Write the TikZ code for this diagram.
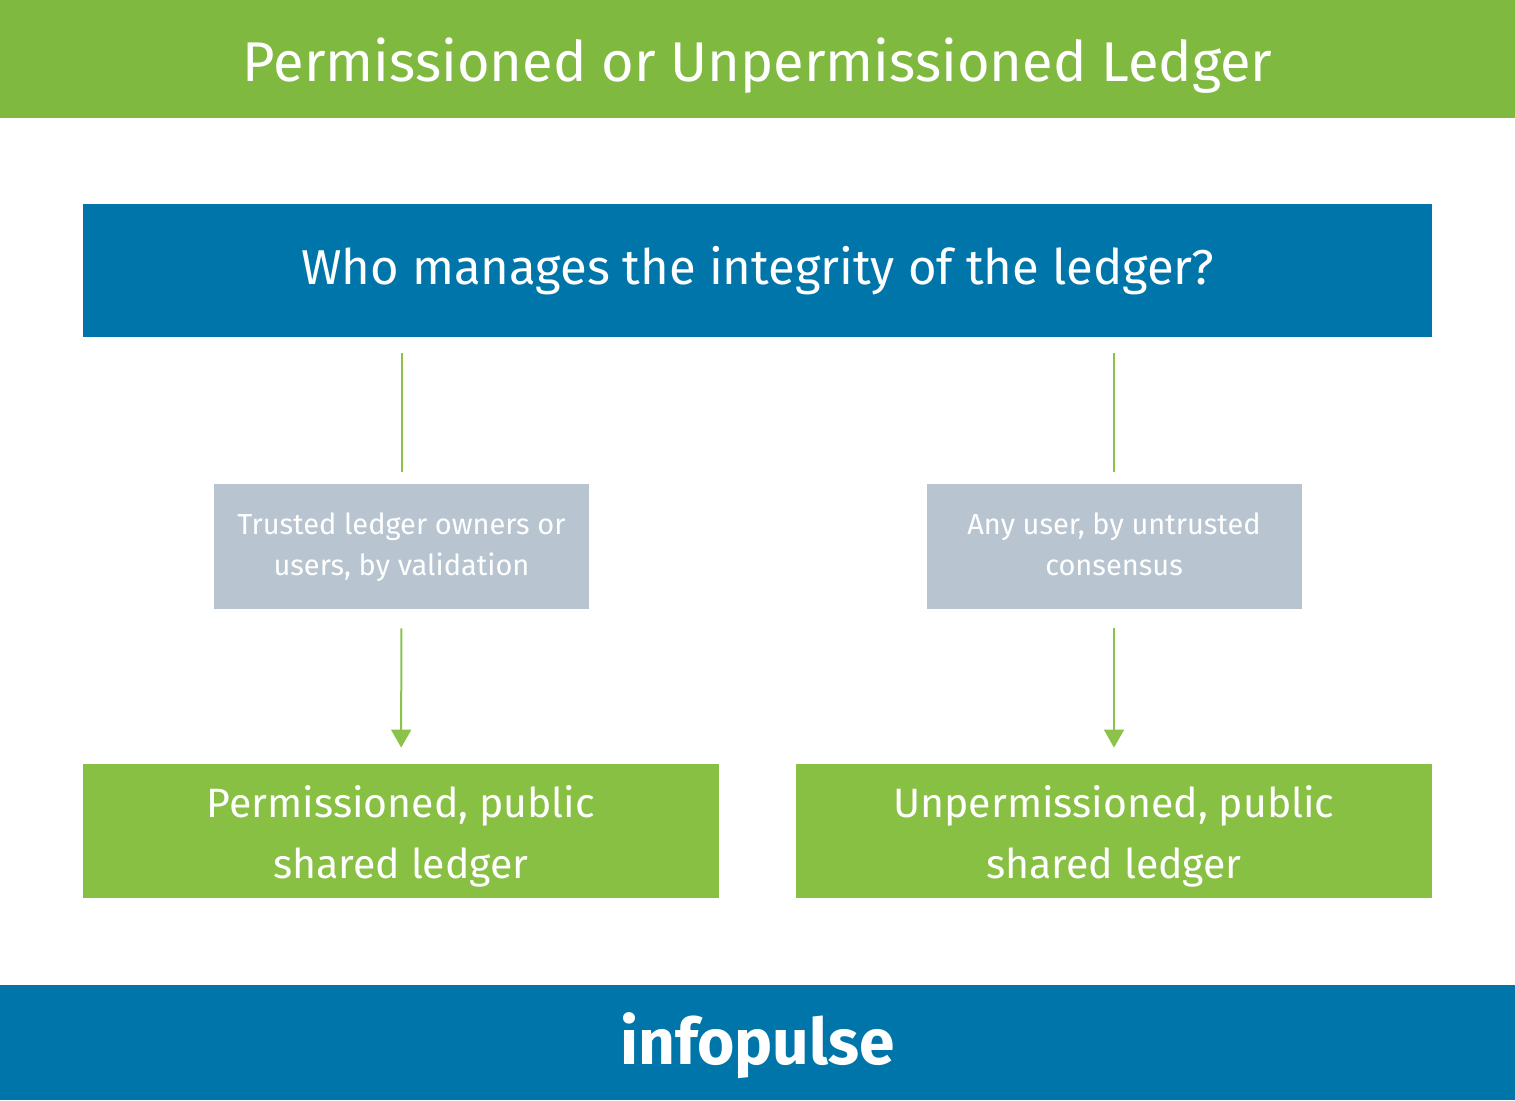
\documentclass[tikz,border=0pt]{standalone}
\usepackage{fontspec}
\setmainfont{Fira Sans}
\usetikzlibrary{arrows.meta,positioning}
\definecolor{ipGreen}{RGB}{128,185,64}
\definecolor{ipLeaf}{RGB}{136,192,67}
\definecolor{ipLine}{RGB}{139,195,74}
\definecolor{ipBlue}{RGB}{0,117,170}
\definecolor{ipGrey}{RGB}{184,197,209}
\newcommand{\topstrut}{\rule{0pt}{26.5pt}}

\begin{document}
\begin{tikzpicture}[x=0.5pt, y=-0.5pt,
    band/.style={rectangle, inner sep=0pt, text=white},
    question/.style={rectangle, fill=ipBlue, text=white, inner sep=0pt,
                     minimum width=674.5pt, minimum height=66.5pt, font=\fontsize{24.5}{30}\selectfont},
    how/.style={rectangle, fill=ipGrey, text=white, inner sep=0pt, align=center,
                minimum width=187.5pt, minimum height=62.5pt, font=\fontsize{14.5}{20.5}\selectfont},
    result/.style={rectangle, fill=ipLeaf, text=white, inner sep=0pt, align=center,
                   minimum width=318pt, minimum height=67pt, font=\fontsize{20.5}{30.5}\selectfont},
    link/.style={draw=ipLine, line width=1pt},
    arr/.style={link, -{Triangle[length=9pt, width=10pt]}}
  ]
  \useasboundingbox (0,0) rectangle (1515,1100);

  % Header and footer bands
  \fill[ipGreen] (0,0) rectangle (1515,118);
  \fill[ipBlue] (0,985) rectangle (1515,1100);
  \node[band, font=\fontsize{28}{32}\selectfont] (head) at (757.5,66) {Permissioned or Unpermissioned Ledger};
  \node[band, font=\fontsize{32}{36}\selectfont\bfseries] (foot) at (757.5,1046) {infopulse};

  % Question
  \node[question] (who) at (757.5,270.5) {Who manages the integrity of the ledger?};

  % Left branch
  \node[how] (trust) at (401.5,546.5) {\strut Trusted ledger owners or\\users, by validation\strut};
  \node[result] (perm) at (401,831) {\topstrut Permissioned, public\\shared ledger\strut};
  \draw[link, shorten <=8pt, shorten >=6pt] (who.south -| trust) -- (trust);
  \draw[arr, shorten <=9.5pt, shorten >=8pt] (trust) -- (perm);

  % Right branch
  \node[how] (any) at (1114,546.5) {\strut Any user, by untrusted\\consensus\strut};
  \node[result] (unperm) at (1114,831) {\topstrut Unpermissioned, public\\shared ledger\strut};
  \draw[link, shorten <=8pt, shorten >=6pt] (who.south -| any) -- (any);
  \draw[arr, shorten <=9.5pt, shorten >=8pt] (any) -- (unperm);
\end{tikzpicture}
\end{document}
